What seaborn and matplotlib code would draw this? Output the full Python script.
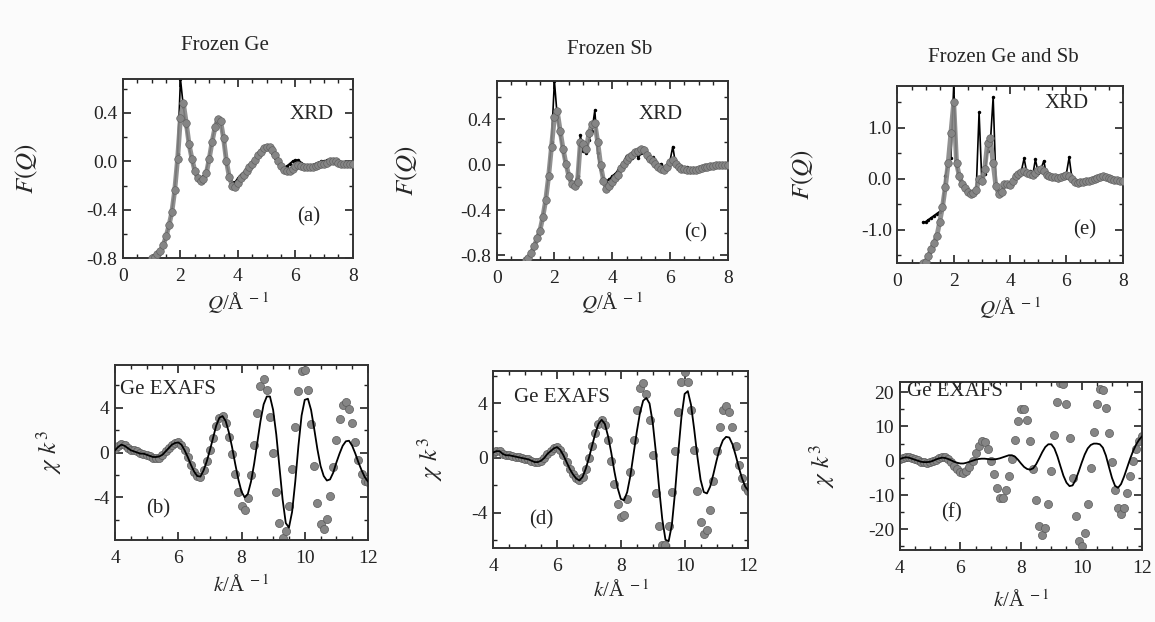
import numpy as np
import matplotlib
matplotlib.use('Agg')
import matplotlib.pyplot as plt
from matplotlib.ticker import MultipleLocator, FormatStrFormatter
import seaborn as sns

sns.set_theme(style='ticks')
plt.rcParams['font.family'] = ['Liberation Serif', 'DejaVu Serif']
plt.rcParams['mathtext.fontset'] = 'stix'
plt.rcParams['axes.unicode_minus'] = False

FONT_SIZE = 14

# ---- XRD data, F(Q) sampled every 0.1 1/A ----
q_ac = np.round(np.arange(1.0, 8.001, 0.1), 1)
q_e = np.round(np.arange(0.9, 8.001, 0.1), 1)

fq_a_gray = [-0.80, -0.79, -0.77, -0.74, -0.69, -0.62, -0.53, -0.42, -0.24, 0.02,
             0.36, 0.48, 0.32, 0.14, 0.02, -0.08, -0.14, -0.16, -0.15, -0.10,
             0.02, 0.16, 0.28, 0.35, 0.33, 0.19, 0.00, -0.13, -0.20, -0.21,
             -0.18, -0.14, -0.11, -0.08, -0.05, -0.02, 0.01, 0.05, 0.08, 0.11,
             0.12, 0.12, 0.09, 0.05, 0.00, -0.04, -0.07, -0.08, -0.08, -0.06,
             -0.04, -0.03, -0.04, -0.05, -0.05, -0.05, -0.05, -0.04, -0.03, -0.02,
             -0.02, -0.01, 0.00, 0.00, 0.00, -0.01, -0.02, -0.02, -0.02, -0.02,
             -0.02]
fq_a_black = [-0.80, -0.79, -0.77, -0.74, -0.69, -0.62, -0.53, -0.41, -0.22, 0.06,
              0.68, 0.45, 0.28, 0.12, 0.00, -0.09, -0.13, -0.14, -0.12, -0.07,
              0.04, 0.17, 0.29, 0.36, 0.32, 0.16, -0.02, -0.12, -0.17, -0.17,
              -0.14, -0.11, -0.09, -0.07, -0.04, -0.01, 0.02, 0.05, 0.08, 0.10,
              0.11, 0.10, 0.07, 0.03, -0.01, -0.04, -0.05, -0.04, -0.02, 0.00,
              0.01, 0.01, -0.01, -0.03, -0.04, -0.04, -0.03, -0.02, -0.01, 0.00,
              0.00, 0.01, 0.01, 0.01, 0.00, -0.01, -0.01, -0.01, -0.01, -0.02,
              -0.02]
fq_c_gray = [-0.84, -0.82, -0.78, -0.72, -0.65, -0.58, -0.46, -0.31, -0.10, 0.16,
             0.42, 0.47, 0.30, 0.14, 0.01, -0.10, -0.17, -0.19, -0.15, 0.20,
             0.18, 0.14, 0.28, 0.36, 0.37, 0.20, 0.00, -0.14, -0.21, -0.19,
             -0.15, -0.12, -0.09, -0.03, 0.01, 0.04, 0.07, 0.09, 0.11, 0.12,
             0.14, 0.13, 0.09, 0.05, 0.03, 0.01, -0.02, -0.04, -0.05, -0.02,
             0.02, 0.04, 0.01, -0.02, -0.04, -0.04, -0.05, -0.05, -0.05, -0.05,
             -0.04, -0.03, -0.02, -0.02, -0.01, -0.01, 0.00, 0.00, 0.00, 0.00,
             0.00]
fq_c_black = [-0.84, -0.82, -0.78, -0.72, -0.65, -0.57, -0.45, -0.30, -0.08, 0.20,
              0.74, 0.42, 0.26, 0.11, -0.01, -0.10, -0.15, -0.16, -0.10, 0.26,
              0.12, 0.10, 0.22, 0.30, 0.48, 0.10, -0.05, -0.12, -0.14, -0.13,
              -0.10, -0.08, -0.05, -0.02, 0.02, 0.08, 0.03, 0.06, 0.12, 0.06,
              0.10, 0.15, 0.06, 0.04, 0.07, 0.00, -0.02, 0.01, -0.03, 0.00,
              0.03, 0.16, 0.00, -0.03, -0.01, -0.04, -0.02, -0.06, -0.03, -0.04,
              -0.02, -0.04, -0.01, -0.02, 0.00, -0.02, 0.01, -0.01, 0.01, 0.00,
              0.00]
fq_e_gray = [-1.65,
             -1.62, -1.52, -1.38, -1.25, -1.12, -0.85, -0.55, -0.17, 0.30, 0.90,
             1.50, 0.30, 0.05, -0.10, -0.18, -0.25, -0.29, -0.28, -0.22, 0.00,
             -0.05, 0.20, 0.70, 0.80, 0.30, -0.15, -0.30, -0.25, -0.10, -0.10,
             -0.12, -0.05, 0.05, 0.10, 0.14, 0.16, 0.12, 0.10, 0.08, 0.12,
             0.18, 0.20, 0.15, 0.08, 0.05, 0.04, 0.03, 0.02, 0.04, 0.06,
             0.08, 0.06, 0.00, -0.06, -0.08, -0.07, -0.06, -0.05, -0.04, -0.03,
             0.00, 0.02, 0.04, 0.05, 0.04, 0.02, 0.00, -0.02, -0.03, -0.04,
             -0.04]
fq_e_black = [-0.85,
              -0.84, -0.80, -0.76, -0.72, -0.68, -0.64, -0.60, 0.05, 0.30, 0.40,
              1.85, 0.25, 0.02, -0.10, -0.18, -0.24, -0.27, -0.26, -0.20, 1.30,
              -0.08, 0.10, 0.55, 0.70, 1.60, -0.10, -0.28, -0.22, -0.10, -0.12,
              -0.12, -0.02, 0.06, 0.12, 0.15, 0.40, 0.10, 0.15, 0.05, 0.38,
              0.12, 0.20, 0.35, 0.05, 0.08, 0.02, 0.06, -0.02, 0.05, 0.03,
              0.10, 0.42, 0.00, -0.05, -0.08, -0.05, -0.07, -0.03, -0.05, -0.02,
              0.00, 0.03, 0.05, 0.03, 0.05, 0.00, 0.02, -0.02, 0.00, -0.03,
              -0.03]

# ---- Ge EXAFS data, chi*k^3 sampled every 0.1 1/A ----
k = np.round(np.arange(4.0, 12.001, 0.1), 1)

chi_b_dots = [0.3, 0.6, 0.8, 0.7, 0.4, 0.2, 0.2, 0.1, 0.0, -0.1,
              -0.2, -0.3, -0.45, -0.5, -0.45, -0.2, 0.1, 0.4, 0.7, 0.85,
              0.9, 0.7, 0.2, -0.4, -1.1, -1.7, -2.1, -2.15, -1.6, -0.8,
              0.2, 1.3, 2.4, 3.1, 3.25, 2.6, 1.4, -0.1, -1.9, -3.5,
              -4.8, -5.1, -4.1, -2.0, 0.7, 3.5, 5.9, 6.6, 5.6, 3.2,
              0.0, -3.5, -6.3, -7.6, -7.0, -4.8, -1.5, 2.3, 5.5, 7.3,
              7.4, 5.6, 2.5, -1.2, -4.5, -6.4, -6.8, -5.9, -3.9, -1.3,
              1.1, 3.0, 4.2, 4.5, 3.9, 2.6, 0.9, -0.7, -1.9, -2.5,
              -2.6]
chi_b_line = [0.2, 0.5, 0.7, 0.6, 0.4, 0.2, 0.1, 0.0, -0.1, -0.1,
              -0.2, -0.3, -0.4, -0.4, -0.35, -0.2, 0.1, 0.4, 0.7, 0.85,
              0.9, 0.7, 0.2, -0.4, -1.1, -1.7, -2.1, -2.15, -1.6, -0.8,
              0.2, 1.3, 2.4, 3.1, 3.25, 2.8, 1.8, 0.5, -1.0, -2.4,
              -3.5, -4.0, -3.7, -2.6, -1.0, 0.9, 2.8, 4.3, 5.0, 5.0,
              3.8, 1.6, -1.3, -4.2, -6.3, -6.7, -5.3, -2.6, 0.6, 3.3,
              4.7, 4.8, 3.8, 2.1, 0.3, -1.2, -2.1, -2.5, -2.4, -1.8,
              -0.9, -0.1, 0.6, 1.0, 1.05, 0.6, -0.1, -0.9, -1.6, -2.2,
              -2.6]
chi_d_dots = [0.4, 0.5, 0.5, 0.3, 0.2, 0.2, 0.15, 0.1, 0.05, 0.0,
              -0.05, -0.1, -0.2, -0.3, -0.3, -0.2, 0.0, 0.3, 0.5, 0.7,
              0.8, 0.6, 0.2, -0.3, -0.8, -1.2, -1.5, -1.65, -1.4, -0.8,
              0.0, 0.9, 1.8, 2.5, 2.8, 2.4, 1.3, -0.2, -1.9, -3.4,
              -4.3, -4.2, -3.0, -1.0, 1.3, 3.5, 5.1, 5.5, 4.7, 2.8,
              0.2, -2.6, -5.0, -6.4, -6.4, -5.0, -2.5, 0.5, 3.4, 5.6,
              6.3, 5.6, 3.5, 0.6, -2.4, -4.7, -5.6, -5.3, -3.8, -1.7,
              0.5, 2.3, 3.5, 3.8, 3.4, 2.3, 0.9, -0.5, -1.5, -2.1,
              -2.4]
chi_d_line = [0.4, 0.5, 0.5, 0.3, 0.2, 0.2, 0.15, 0.1, 0.05, 0.0,
              -0.05, -0.1, -0.2, -0.3, -0.3, -0.2, 0.0, 0.3, 0.5, 0.7,
              0.8, 0.6, 0.2, -0.3, -0.8, -1.2, -1.5, -1.65, -1.4, -0.8,
              0.0, 0.9, 1.8, 2.5, 2.8, 2.5, 1.6, 0.4, -1.0, -2.2,
              -3.0, -3.1, -2.5, -1.3, 0.3, 1.9, 3.3, 4.2, 4.4, 4.0,
              2.6, 0.4, -2.2, -4.5, -6.0, -6.1, -4.9, -2.5, 0.4, 3.0,
              4.7, 4.9, 3.9, 2.1, 0.1, -1.6, -2.5, -2.6, -2.1, -1.2,
              -0.2, 0.7, 1.3, 1.55, 1.5, 1.0, 0.2, -0.7, -1.5, -2.1,
              -2.4]
chi_f_dots = [0.5, 0.9, 1.2, 1.2, 0.9, 0.5, 0.1, -0.3, -0.5, -0.6,
              -0.5, -0.2, 0.3, 0.8, 1.1, 1.0, 0.5, -0.4, -1.5, -2.5,
              -3.2, -3.5, -3.0, -1.8, 0.0, 2.2, 4.3, 5.7, 5.5, 3.5,
              0.0, -4.0, -8.0, -10.8, -11.0, -8.5, -4.5, 0.5, 6.0, 11.5,
              15.0, 15.2, 12.0, 5.8, -2.5, -11.5, -19.0, -21.8, -19.5, -12.5,
              -3.0, 7.5, 17.0, 22.8, 22.5, 16.5, 6.5, -5.0, -16.0, -23.5,
              -25.0, -21.0, -12.5, -2.0, 8.5, 16.5, 20.8, 20.5, 15.5, 8.0,
              -0.5, -8.5, -13.8, -15.6, -13.8, -9.5, -4.5, 0.0, 3.5, 5.8,
              7.2]
chi_f_line = [0.5, 0.8, 1.0, 0.9, 0.6, 0.3, 0.0, -0.3, -0.4, -0.4,
              -0.3, 0.0, 0.4, 0.7, 0.9, 0.8, 0.5, 0.1, -0.3, -0.6,
              -0.8, -0.8, -0.6, -0.3, 0.0, 0.3, 0.5, 0.6, 0.6, 0.5,
              0.4, 0.4, 0.5, 0.7, 1.0, 1.3, 1.6, 1.6, 1.2, 0.3,
              -0.8, -1.8, -2.4, -2.6, -2.2, -1.0, 0.7, 2.5, 4.0, 4.8,
              4.8, 3.6, 1.3, -1.6, -4.4, -6.4, -7.4, -7.2, -5.6, -3.2,
              -0.6, 1.8, 3.6, 4.6, 5.0, 5.0, 4.8, 3.8, 1.5, -1.8,
              -5.0, -7.3, -7.9, -6.8, -4.6, -2.0, 0.6, 2.9, 4.8, 6.2,
              7.2]

titles = ['Frozen Ge', 'Frozen Sb', 'Frozen Ge and Sb']
GRAY = '#858585'
EDGE = '#5a5a5a'

fig = plt.figure(figsize=(11.55, 6.22), dpi=100)
fig.patch.set_facecolor('#fbfbfb')


def style_axis(ax, xlim, ylim, xmaj, xmin, ymaj, ymin, yfmt):
    ax.set_xlim(*xlim)
    ax.set_ylim(*ylim)
    ax.xaxis.set_major_locator(MultipleLocator(xmaj))
    ax.xaxis.set_minor_locator(MultipleLocator(xmin))
    ax.yaxis.set_major_locator(MultipleLocator(ymaj))
    ax.yaxis.set_minor_locator(MultipleLocator(ymin))
    ax.yaxis.set_major_formatter(FormatStrFormatter(yfmt))
    ax.tick_params(which='both', direction='in', top=True, right=True,
                   colors='#222222', labelsize=FONT_SIZE)
    ax.tick_params(which='major', length=6, width=1.2)
    ax.tick_params(which='minor', length=3, width=1.0)
    ax.tick_params(axis='x', pad=7)
    ax.tick_params(axis='y', pad=4)
    for sp in ax.spines.values():
        sp.set_linewidth(1.4)
        sp.set_color('#333333')
    ax.set_facecolor('white')


def xrd_panel(rect, q, gray, black, ylim, ymaj, ymin, yfmt, tag, xrd_xy, tag_xy, ylab_x, xlab_y):
    ax = fig.add_axes(rect)
    sns.lineplot(x=q, y=black, ax=ax, color='black', lw=1.2, sort=False,
                 estimator=None, marker='o', markersize=2.5, markeredgewidth=0, zorder=2)
    sns.lineplot(x=q, y=gray, ax=ax, color=GRAY, lw=3.5, sort=False,
                 estimator=None, zorder=3, alpha=0.9)
    sns.scatterplot(x=q, y=gray, ax=ax, color=GRAY, s=30, edgecolor=EDGE,
                    linewidth=0.4, zorder=4)
    style_axis(ax, (0, 8), ylim, 2, 0.5, ymaj, ymin, yfmt)
    ax.text(*xrd_xy, 'XRD', transform=ax.transAxes, fontsize=15, ha='center', va='center')
    ax.text(*tag_xy, tag, transform=ax.transAxes, fontsize=15, ha='center', va='center')
    ax.set_ylabel(r'$F(Q)$', fontsize=18)
    ax.yaxis.set_label_coords(ylab_x, 0.5)
    ax.set_xlabel(r'$Q$/Å$^{\ -1}$', fontsize=15)
    ax.xaxis.set_label_coords(0.5, xlab_y)
    return ax


def exafs_panel(rect, dots, line, ylim, ymaj, ymin, tag, lab_xy, tag_xy, ylab_x, xlab_y):
    ax = fig.add_axes(rect)
    sns.scatterplot(x=k, y=dots, ax=ax, color=GRAY, s=34, edgecolor=EDGE,
                    linewidth=0.5, zorder=2)
    sns.lineplot(x=k, y=line, ax=ax, color='black', lw=1.3, sort=False,
                 estimator=None, zorder=3)
    style_axis(ax, (4, 12), ylim, 2, 0.5, ymaj, ymin, '%d')
    ax.text(*lab_xy, 'Ge EXAFS', transform=ax.transAxes, fontsize=15, ha='left', va='center')
    ax.text(*tag_xy, tag, transform=ax.transAxes, fontsize=15, ha='center', va='center')
    ax.set_ylabel(r'$\chi\ k^3$', fontsize=18)
    ax.yaxis.set_label_coords(ylab_x, 0.5)
    ax.set_xlabel(r'$k$/Å$^{\ -1}$', fontsize=15)
    ax.xaxis.set_label_coords(0.5, xlab_y)
    return ax


xrd_panel([0.1065, 0.585, 0.199, 0.288], q_ac, fq_a_gray, fq_a_black,
          (-0.8, 0.68), 0.4, 0.2, '%.1f', '(a)', (0.82, 0.80), (0.81, 0.23), -0.36, -0.18)
xrd_panel([0.430, 0.582, 0.200, 0.288], q_ac, fq_c_gray, fq_c_black,
          (-0.84, 0.74), 0.4, 0.2, '%.1f', '(c)', (0.71, 0.81), (0.86, 0.15), -0.33, -0.17)
xrd_panel([0.777, 0.577, 0.195, 0.285], q_e, fq_e_gray, fq_e_black,
          (-1.65, 1.82), 1.0, 0.5, '%.1f', '(e)', (0.75, 0.90), (0.83, 0.19), -0.36, -0.18)

exafs_panel([0.0996, 0.132, 0.219, 0.281], chi_b_dots, chi_b_line,
            (-7.8, 7.8), 4, 2, '(b)', (0.02, 0.86), (0.17, 0.18), -0.20, -0.20)
exafs_panel([0.427, 0.119, 0.221, 0.285], chi_d_dots, chi_d_line,
            (-6.6, 6.4), 4, 2, '(d)', (0.08, 0.85), (0.19, 0.16), -0.19, -0.18)
exafs_panel([0.779, 0.116, 0.210, 0.270], chi_f_dots, chi_f_line,
            (-26, 23), 10, 5, '(f)', (0.03, 0.94), (0.215, 0.22), -0.26, -0.24)

for title, (tx, ty) in zip(titles, [(225, 45), (610, 50), (1003, 57)]):
    fig.text(tx / 1155, 1 - ty / 622, title, fontsize=15, ha='center', va='center')

fig.savefig('out.png', dpi=100, facecolor=fig.get_facecolor())
plt.close()
